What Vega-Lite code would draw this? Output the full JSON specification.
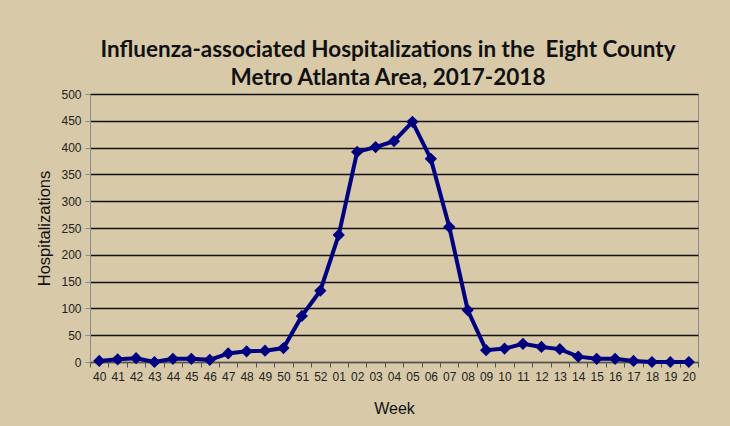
{
  "$schema": "https://vega.github.io/schema/vega-lite/v6.json",
  "autosize": {"type": "none"},
  "width": 608,
  "height": 268,
  "padding": {"left": 90, "top": 94, "right": 32, "bottom": 64},
  "background": "#D8CAA9",
  "title": {
    "text": ["Influenza-associated Hospitalizations in the \u00a0Eight County", "Metro Atlanta Area, 2017-2018"],
    "font": "Lato",
    "fontSize": 22.5,
    "fontWeight": "bold",
    "color": "#111111",
    "lineHeight": 28,
    "anchor": "middle",
    "dx": -6,
    "offset": -1
  },
  "config": {
    "view": {"stroke": "#8A8A8A", "strokeWidth": 1, "fill": "#D8CAA9"},
    "axis": {"labelFont": "Liberation Sans", "titleFont": "Liberation Sans", "labelColor": "#222222", "titleColor": "#111111"}
  },
  "data": {
    "values": [
      {"week": "40", "hosp": 2},
      {"week": "41", "hosp": 5},
      {"week": "42", "hosp": 7},
      {"week": "43", "hosp": 0},
      {"week": "44", "hosp": 6},
      {"week": "45", "hosp": 6},
      {"week": "46", "hosp": 4},
      {"week": "47", "hosp": 16},
      {"week": "48", "hosp": 20},
      {"week": "49", "hosp": 21},
      {"week": "50", "hosp": 26},
      {"week": "51", "hosp": 86},
      {"week": "52", "hosp": 133},
      {"week": "01", "hosp": 237},
      {"week": "02", "hosp": 392},
      {"week": "03", "hosp": 401},
      {"week": "04", "hosp": 412},
      {"week": "05", "hosp": 448},
      {"week": "06", "hosp": 379},
      {"week": "07", "hosp": 252},
      {"week": "08", "hosp": 97},
      {"week": "09", "hosp": 22},
      {"week": "10", "hosp": 25},
      {"week": "11", "hosp": 34},
      {"week": "12", "hosp": 28},
      {"week": "13", "hosp": 24},
      {"week": "14", "hosp": 10},
      {"week": "15", "hosp": 6},
      {"week": "16", "hosp": 6},
      {"week": "17", "hosp": 2},
      {"week": "18", "hosp": 0},
      {"week": "19", "hosp": 0},
      {"week": "20", "hosp": 0}
    ]
  },
  "encoding": {
    "x": {
      "field": "week",
      "type": "ordinal",
      "sort": null,
      "scale": {"type": "band", "paddingInner": 0, "paddingOuter": 0},
      "axis": {
        "title": "Week",
        "titleFontSize": 16,
        "titleFontWeight": "normal",
        "titlePadding": 18,
        "labelAngle": 0,
        "labelFontSize": 12,
        "labelPadding": 4,
        "tickBand": "extent",
        "tickColor": "#555555",
        "tickSize": 5,
        "domainColor": "#555555",
        "grid": false
      }
    },
    "y": {
      "field": "hosp",
      "type": "quantitative",
      "scale": {"domain": [0, 500], "nice": false},
      "axis": {
        "title": "Hospitalizations",
        "titleFontSize": 16.5,
        "titleFontWeight": "normal",
        "titlePadding": 8,
        "values": [0, 50, 100, 150, 200, 250, 300, 350, 400, 450, 500],
        "labelFontSize": 12,
        "labelPadding": 4,
        "tickColor": "#8A8A8A",
        "tickSize": 5,
        "domainColor": "#8A8A8A",
        "grid": true,
        "gridColor": "#111111",
        "gridWidth": 1.5,
        "gridOpacity": 1
      }
    }
  },
  "layer": [
    {
      "mark": {"type": "line", "color": "#000080", "strokeWidth": 4}
    },
    {
      "mark": {"type": "point", "shape": "diamond", "filled": true, "color": "#000080", "size": 150, "opacity": 1}
    }
  ]
}
